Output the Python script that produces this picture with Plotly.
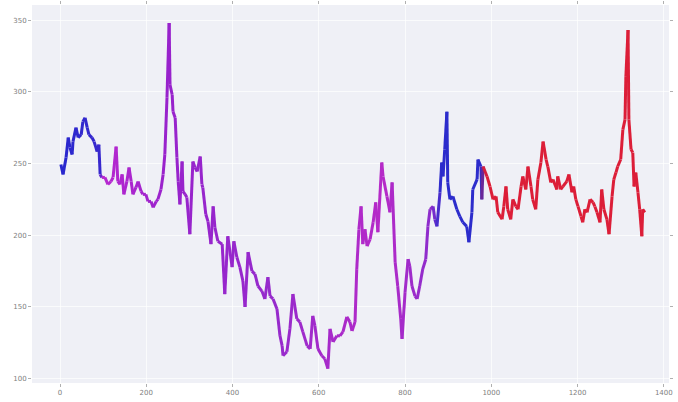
import plotly.graph_objects as go

# Series sampled along the horizontal index
x_vals = [2, 7, 14, 19, 23, 28, 30, 37, 42, 49, 53, 58, 63, 67, 74, 79, 86, 90, 93, 97,
          104, 111, 118, 123, 130, 134, 139, 144, 148, 155, 160, 165, 169, 176, 181, 188, 192, 199, 204, 211,
          216, 223, 227, 234, 239, 243, 248, 253, 255, 260, 262, 267, 271, 274, 278, 283, 285, 290, 294, 301,
          308, 313, 318, 325, 329, 331, 338, 343, 350, 355, 359, 366, 376, 382, 389, 399, 403, 410, 417, 424,
          429, 436, 445, 452, 459, 468, 475, 482, 487, 494, 503, 510, 515, 517, 526, 533, 540, 549, 556, 563,
          573, 580, 586, 591, 598, 607, 614, 621, 626, 633, 642, 649, 656, 665, 672, 677, 684, 688, 693, 698,
          702, 707, 712, 719, 726, 732, 737, 746, 749, 758, 765, 770, 777, 783, 790, 793, 800, 807, 811, 816,
          823, 828, 834, 841, 848, 853, 858, 865, 869, 874, 881, 885, 888, 892, 897, 899, 904, 911, 920, 927,
          934, 943, 948, 955, 957, 967, 969, 976, 978, 981, 990, 997, 1004, 1011, 1015, 1025, 1029, 1034, 1038, 1045,
          1050, 1057, 1062, 1069, 1073, 1080, 1085, 1092, 1096, 1103, 1108, 1115, 1120, 1127, 1131, 1138, 1143, 1152, 1154, 1161,
          1166, 1175, 1180, 1187, 1191, 1196, 1201, 1208, 1212, 1217, 1222, 1229, 1236, 1240, 1245, 1252, 1256, 1261, 1268, 1273,
          1280, 1284, 1289, 1293, 1300, 1305, 1310, 1312, 1317, 1319, 1324, 1328, 1331, 1335, 1340, 1344, 1349, 1351, 1356]
y_vals = [249.3, 242.4, 254.2, 268.1, 261.1, 256.3, 265.3, 275.0, 268.1, 270.1, 279.2, 281.9, 275.0, 270.1, 268.1, 265.3, 258.3, 263.2, 242.4, 240.3,
          240.3, 235.4, 237.5, 240.3, 261.8, 237.5, 235.4, 242.4, 228.5, 237.5, 247.2, 237.5, 228.5, 233.3, 237.5, 230.6, 228.5, 228.5, 223.6, 223.6,
          219.4, 223.6, 225.0, 231.9, 242.4, 256.3, 295.8, 347.9, 304.9, 297.9, 286.1, 281.9, 254.2, 237.5, 221.5, 251.4, 230.6, 228.5, 226.4, 200.7,
          251.4, 247.2, 244.4, 254.9, 235.4, 233.3, 214.6, 209.7, 193.8, 220.1, 205.6, 195.8, 193.8, 159.0, 199.3, 177.8, 195.8, 184.7, 177.8, 168.1,
          150.0, 188.2, 175.0, 172.9, 164.6, 161.1, 155.6, 170.8, 157.6, 155.6, 148.6, 129.9, 122.9, 116.0, 118.8, 134.7, 159.0, 141.7, 139.6, 132.6,
          122.9, 120.8, 143.8, 136.8, 120.8, 116.0, 113.9, 107.0, 134.7, 125.7, 129.9, 129.9, 132.6, 143.1, 139.6, 133.3, 139.6, 176.4, 204.2, 220.1,
          193.8, 204.2, 192.4, 197.2, 209.0, 222.9, 202.1, 250.7, 241.0, 227.1, 216.0, 236.8, 181.3, 164.6, 141.7, 127.8, 160.4, 183.3, 178.5, 164.6,
          157.6, 155.6, 164.6, 176.4, 183.3, 206.2, 218.1, 220.1, 211.1, 206.2, 229.9, 250.7, 241.0, 259.7, 286.1, 236.8, 225.0, 227.1, 218.1, 213.2,
          209.0, 206.2, 195.1, 216.0, 231.9, 238.9, 252.8, 247.9, 225.0, 247.9, 241.0, 234.0, 225.0, 227.1, 216.0, 211.1, 220.1, 234.0, 218.1, 211.1,
          225.0, 220.1, 218.1, 234.0, 241.0, 231.9, 247.9, 234.0, 225.0, 218.1, 238.9, 250.7, 265.3, 252.8, 247.9, 236.8, 238.9, 231.9, 241.0, 231.9,
          234.0, 237.5, 242.4, 229.9, 234.0, 225.0, 220.1, 213.2, 209.0, 218.1, 216.0, 225.0, 222.9, 220.1, 216.0, 209.0, 231.9, 218.1, 211.1, 200.7,
          227.1, 238.9, 243.7, 247.9, 252.8, 273.6, 280.6, 310.4, 343.1, 280.6, 259.7, 257.6, 234.0, 243.7, 229.9, 218.1, 199.3, 218.1, 216.0]

x_tick_vals = [0, 200, 400, 600, 800, 1000, 1200, 1400]
y_tick_vals = [100, 150, 200, 250, 300, 350]

# Colour stops along the index: blue -> magenta/purple -> blue -> red
color_stops = [
    (0, (40, 40, 206)),
    (92, (56, 40, 206)),
    (100, (184, 40, 208)),
    (250, (152, 34, 204)),
    (500, (150, 42, 204)),
    (750, (182, 42, 200)),
    (862, (140, 44, 204)),
    (884, (44, 44, 204)),
    (976, (44, 44, 204)),
    (986, (220, 30, 56)),
    (1400, (220, 30, 56)),
]


def color_at(x):
    for (x0, c0), (x1, c1) in zip(color_stops[:-1], color_stops[1:]):
        if x0 <= x <= x1:
            t = 0 if x1 == x0 else (x - x0) / (x1 - x0)
            r, g, b = (round(a + (b_ - a) * t) for a, b_ in zip(c0, c1))
            return f"rgb({r},{g},{b})"
    return "rgb(220,30,56)"


fig = go.Figure()
for i in range(len(x_vals) - 1):
    xm = (x_vals[i] + x_vals[i + 1]) / 2
    fig.add_trace(go.Scatter(
        x=x_vals[i:i + 2], y=y_vals[i:i + 2], mode="lines",
        line=dict(color=color_at(xm), width=3),
        hoverinfo="skip", showlegend=False,
    ))

axis_common = dict(
    showgrid=True, gridcolor="rgba(255,255,255,0.7)", gridwidth=1,
    zeroline=False, showline=False,
    ticks="outside", ticklen=3, tickcolor="#b0b0b0", tickwidth=1,
    mirror="ticks",
    tickfont=dict(family="DejaVu Sans", size=7, color="#808080"),
)

fig.update_layout(
    width=678, height=402,
    margin=dict(l=32, r=8, t=5, b=17),
    paper_bgcolor="white", plot_bgcolor="#eff0f6",
    showlegend=False,
    xaxis=dict(range=[-65, 1412], tickvals=x_tick_vals, ticktext=[str(v) for v in x_tick_vals], **axis_common),
    yaxis=dict(range=[97, 360.5], tickvals=y_tick_vals, ticktext=[str(v) for v in y_tick_vals], **axis_common),
)

fig.write_html("out.html")
